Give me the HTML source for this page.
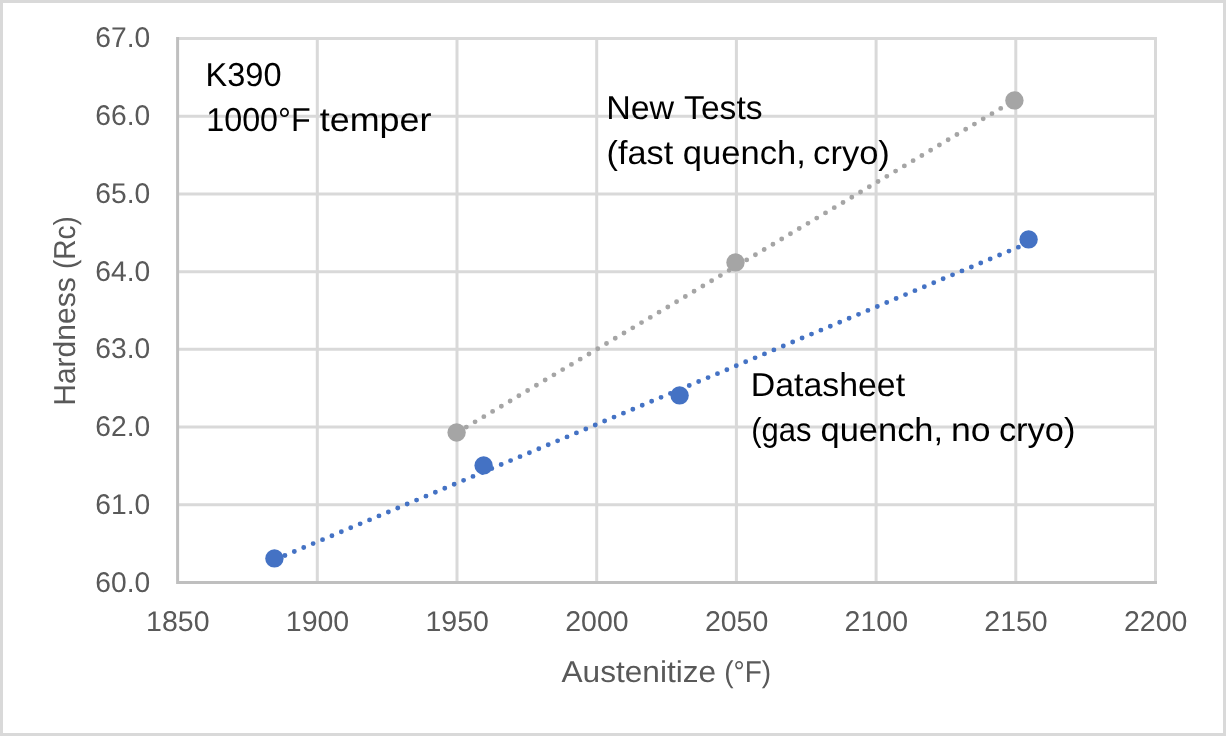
<!DOCTYPE html>
<html><head><meta charset="utf-8"><style>
html,body{margin:0;padding:0;background:#fff;overflow:hidden;}
svg{display:block;font-family:"Liberation Sans",sans-serif;text-rendering:geometricPrecision;will-change:transform;}
</style></head><body>
<svg width="1226" height="736" viewBox="0 0 1226 736">
<rect x="1.5" y="1.5" width="1223" height="733" fill="#fff" stroke="#d9d9d9" stroke-width="3"/>
<path d="M177.60 504.79H1157.00 M177.60 427.07H1157.00 M177.60 349.36H1157.00 M177.60 271.64H1157.00 M177.60 193.93H1157.00 M177.60 116.21H1157.00 M177.60 38.50H1157.00 M317.30 37.00V582.50 M457.00 37.00V582.50 M596.70 37.00V582.50 M736.40 37.00V582.50 M876.10 37.00V582.50 M1015.80 37.00V582.50 M1155.50 37.00V582.50" stroke="#d9d9d9" stroke-width="3" fill="none"/>
<path d="M177.6 37V584.0M176.1 582.5H1157" stroke="#bfbfbf" stroke-width="3" fill="none"/>
<text id="y60" transform="translate(150.29 592.00) scale(0.9900 1)" text-anchor="end" font-size="28.5" fill="#595959">60.0</text>
<text id="y61" transform="translate(150.29 514.00) scale(0.9900 1)" text-anchor="end" font-size="28.5" fill="#595959">61.0</text>
<text id="y62" transform="translate(150.29 436.00) scale(0.9900 1)" text-anchor="end" font-size="28.5" fill="#595959">62.0</text>
<text id="y63" transform="translate(150.29 358.00) scale(0.9900 1)" text-anchor="end" font-size="28.5" fill="#595959">63.0</text>
<text id="y64" transform="translate(150.29 281.00) scale(0.9900 1)" text-anchor="end" font-size="28.5" fill="#595959">64.0</text>
<text id="y65" transform="translate(150.29 203.00) scale(0.9900 1)" text-anchor="end" font-size="28.5" fill="#595959">65.0</text>
<text id="y66" transform="translate(150.29 125.00) scale(0.9900 1)" text-anchor="end" font-size="28.5" fill="#595959">66.0</text>
<text id="y67" transform="translate(150.29 47.00) scale(0.9900 1)" text-anchor="end" font-size="28.5" fill="#595959">67.0</text>
<text id="x1850" transform="translate(177.80 631.00) scale(1.0000 1)" text-anchor="middle" font-size="28.5" fill="#595959">1850</text>
<text id="x1900" transform="translate(317.50 631.00) scale(1.0000 1)" text-anchor="middle" font-size="28.5" fill="#595959">1900</text>
<text id="x1950" transform="translate(457.20 631.00) scale(1.0000 1)" text-anchor="middle" font-size="28.5" fill="#595959">1950</text>
<text id="x2000" transform="translate(596.90 631.00) scale(1.0000 1)" text-anchor="middle" font-size="28.5" fill="#595959">2000</text>
<text id="x2050" transform="translate(736.60 631.00) scale(1.0000 1)" text-anchor="middle" font-size="28.5" fill="#595959">2050</text>
<text id="x2100" transform="translate(876.30 631.00) scale(1.0000 1)" text-anchor="middle" font-size="28.5" fill="#595959">2100</text>
<text id="x2150" transform="translate(1016.00 631.00) scale(1.0000 1)" text-anchor="middle" font-size="28.5" fill="#595959">2150</text>
<text id="x2200" transform="translate(1155.70 631.00) scale(1.0000 1)" text-anchor="middle" font-size="28.5" fill="#595959">2200</text>
<text id="w_k390" transform="translate(205.58 86.00) scale(0.9793 1)" font-size="33.2" fill="#000">K390</text>
<text id="w_1000" transform="translate(206.28 131.00) scale(0.9718 1)" font-size="33.2" fill="#000">1000°F</text>
<text id="w_temper" transform="translate(319.65 131.00) scale(1.0833 1)" font-size="33.2" fill="#000">temper</text>
<text id="w_new" transform="translate(606.13 119.00) scale(1.0242 1)" font-size="33.2" fill="#000">New</text>
<text id="w_tests" transform="translate(684.08 119.00) scale(1.0130 1)" font-size="33.2" fill="#000">Tests</text>
<text id="w_fast" transform="translate(606.61 164.00) scale(1.0316 1)" font-size="33.2" fill="#000">(fast</text>
<text id="w_quench1" transform="translate(682.81 164.00) scale(1.0412 1)" font-size="33.2" fill="#000">quench,</text>
<text id="w_cryo1" transform="translate(813.12 164.00) scale(1.0407 1)" font-size="33.2" fill="#000">cryo)</text>
<text id="w_datasheet" transform="translate(750.72 396.00) scale(1.0201 1)" font-size="33.2" fill="#000">Datasheet</text>
<text id="w_gas" transform="translate(751.16 441.00) scale(0.9326 1)" font-size="33.2" fill="#000">(gas</text>
<text id="w_quench2" transform="translate(820.51 441.00) scale(1.0378 1)" font-size="33.2" fill="#000">quench,</text>
<text id="w_no" transform="translate(950.98 441.00) scale(1.0746 1)" font-size="33.2" fill="#000">no</text>
<text id="w_cryo2" transform="translate(998.90 441.00) scale(1.0377 1)" font-size="33.2" fill="#000">cryo)</text>
<text id="w_aust" transform="translate(561.51 682.00) scale(1.0506 1)" font-size="30.1" fill="#595959">Austenitize</text>
<text id="w_degf" transform="translate(724.16 682.00) scale(0.9302 1)" font-size="30.1" fill="#595959">(°F)</text>
<text id="w_hard" transform="translate(75.40 405.82) rotate(-90) scale(0.9916 1)" font-size="30.3" fill="#595959">Hardness</text>
<text id="w_rc" transform="translate(75.40 269.04) rotate(-90) scale(0.9244 1)" font-size="30.3" fill="#595959">(Rc)</text>
<path d="M457.56 432.31L1016.00 99.30" stroke="#a5a5a5" stroke-width="4.9" stroke-linecap="round" stroke-dasharray="0 10.2" fill="none"/>
<path d="M275.52 559.40L1029.70 242.40" stroke="#4472c4" stroke-width="4.9" stroke-linecap="round" stroke-dasharray="0 10.2" fill="none"/>
<circle cx="456.6" cy="432.5" r="9.2" fill="#a5a5a5"/>
<circle cx="735.5" cy="262.4" r="9.2" fill="#a5a5a5"/>
<circle cx="1014.4" cy="100.4" r="9.2" fill="#a5a5a5"/>
<circle cx="274.44" cy="558.4" r="9.2" fill="#4472c4"/>
<circle cx="483.6" cy="465.4" r="9.2" fill="#4472c4"/>
<circle cx="679.6" cy="395.4" r="9.2" fill="#4472c4"/>
<circle cx="1028.6" cy="239.4" r="9.2" fill="#4472c4"/>
</svg>
</body></html>
